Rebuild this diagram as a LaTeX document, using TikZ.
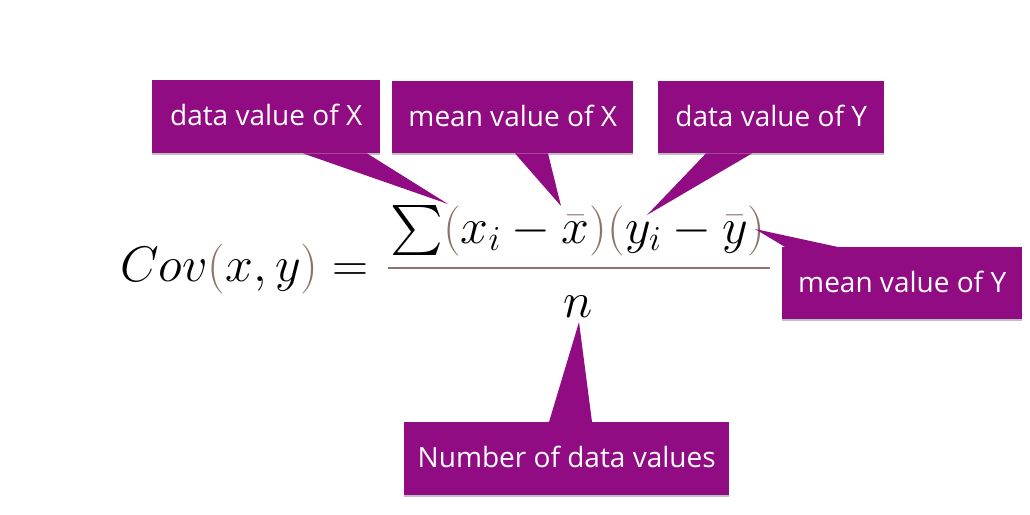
\RequirePackage{fix-cm}
\documentclass[tikz,border=0pt]{standalone}
\usepackage{amsmath}
\usepackage{amssymb}
\usepackage{fontspec}
\newfontfamily\calloutfont{Open Sans}
\usetikzlibrary{shadows}
\definecolor{calloutpurple}{RGB}{145,12,130}
\definecolor{parencol}{RGB}{140,115,110}
\newcommand{\lpar}{\mathopen{\color{parencol}(}}
\newcommand{\rpar}{\mathclose{\color{parencol})}}
\newcommand{\cbar}[1]{{\color{parencol}\bar{\color{black}#1}}}
\begin{document}
\begin{tikzpicture}[x=1pt,y=-1pt,
  callout/.style={fill=calloutpurple, text=white,
    font=\calloutfont\fontsize{28}{32}\selectfont,
    inner sep=0pt, anchor=north west, text height=22pt, text depth=4pt,
    drop shadow={shadow xshift=0pt, shadow yshift=-1.5pt, fill=black, opacity=0.25}},
  pointer/.style={fill=calloutpurple},
  mathtext/.style={inner sep=0pt, font=\fontsize{50}{58}\selectfont},
  fracbar/.style={draw=parencol, line width=2.5pt}]
\useasboundingbox (0,0) rectangle (1030,514);

% formula
\node[mathtext, anchor=base west] (cov) at (120,281) {$Cov\lpar x,y\rpar =$};
\node[mathtext, anchor=base] (num) at (578,243) {$\textstyle\sum\lpar x_i-\cbar{x}\rpar\lpar y_i-\cbar{y}\rpar$};
\node[mathtext, anchor=base] (den) at (578,317) {$n$};
\coordinate (barL) at (388,268);
\coordinate (barR) at (770,268);
\draw[fracbar] (barL) -- (barR);

% pointer tips
\coordinate (t1) at (448,204);
\coordinate (t2) at (561,206);
\coordinate (t3) at (647,215);
\coordinate (t4) at (755,229);
\coordinate (t5) at (579,322);

% callout boxes
\node[callout, minimum width=228pt, minimum height=73pt] (b1) at (152,80) {data value of X};
\node[callout, minimum width=241pt, minimum height=72pt] (b2) at (392,81) {mean value of X};
\node[callout, minimum width=226pt, minimum height=72pt] (b3) at (658,81) {data value of Y};
\node[callout, minimum width=240pt, minimum height=72pt] (b4) at (782,247) {mean value of Y};
\node[callout, minimum width=325pt, minimum height=73pt] (b5) at (404,422) {Number of data values};

% pointers
\fill[pointer] ([xshift=151pt]b1.south west) -- (t1) -- ([xshift=215pt]b1.south west) -- cycle;
\fill[pointer] ([xshift=123pt]b2.south west) -- (t2) -- ([xshift=156pt]b2.south west) -- cycle;
\fill[pointer] ([xshift=48pt]b3.south west) -- (t3) -- ([xshift=94pt]b3.south west) -- cycle;
\fill[pointer] ([xshift=3pt]b4.north west) -- (t4) -- ([xshift=56pt]b4.north west) -- cycle;
\fill[pointer] ([xshift=145pt]b5.north west) -- (t5) -- ([xshift=188pt]b5.north west) -- cycle;
\end{tikzpicture}
\end{document}
